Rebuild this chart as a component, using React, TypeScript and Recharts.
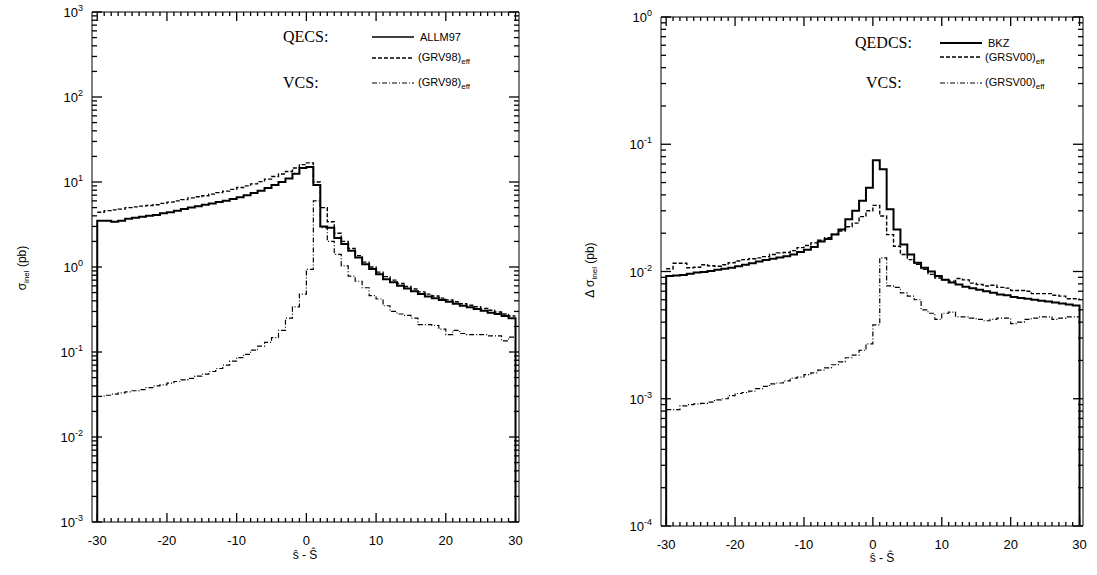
import React from 'react';
import { LineChart, Line, XAxis, YAxis, ReferenceLine } from 'recharts';

// ---------- data (bin values, bins of width 1 from -30 to 30) ----------
const BIN_START = -30;
const BIN_END = 30;
const LEFT_DECADES = [1e-3, 1e-2, 1e-1, 1, 10, 100, 1000];
const RIGHT_DECADES = [1e-4, 1e-3, 1e-2, 1e-1, 1];

// left panel: sigma_inel (pb)
const qecsAllm97 = [
  3.5, 3.5, 3.4, 3.5, 3.7, 3.8, 3.9, 4.0, 4.1, 4.3,
  4.4, 4.6, 4.8, 5.0, 5.2, 5.4, 5.6, 5.8, 6.0, 6.3,
  6.6, 7.0, 7.4, 7.9, 8.5, 9.2, 10.0, 11.0, 12.5, 14.6,
  15.0, 9.2, 3.0, 2.9, 2.2, 1.87, 1.55, 1.29, 1.08, 0.95,
  0.82, 0.72, 0.66, 0.60, 0.56, 0.52, 0.48, 0.45, 0.43, 0.41,
  0.39, 0.37, 0.35, 0.335, 0.32, 0.305, 0.29, 0.28, 0.265, 0.25,
];
const qecsGrv98 = [
  4.4, 4.6, 4.7, 4.8, 5.0, 5.1, 5.2, 5.3, 5.4, 5.6,
  5.8, 6.0, 6.2, 6.5, 6.7, 6.9, 7.2, 7.5, 7.8, 8.2,
  8.6, 9.0, 9.5, 10.1, 10.8, 11.6, 12.4, 13.3, 14.6, 16.0,
  16.8, 10.0, 5.0, 3.4, 2.5, 2.0, 1.65, 1.36, 1.14, 1.0,
  0.87, 0.77, 0.70, 0.64, 0.59, 0.55, 0.51, 0.48, 0.455, 0.43,
  0.41, 0.39, 0.37, 0.355, 0.34, 0.325, 0.31, 0.295, 0.28, 0.265,
];
const vcsGrv98 = [
  0.030, 0.031, 0.032, 0.033, 0.034, 0.035, 0.036, 0.038, 0.040, 0.041,
  0.043, 0.045, 0.047, 0.049, 0.052, 0.055, 0.059, 0.064, 0.070, 0.078,
  0.086, 0.094, 0.105, 0.117, 0.13, 0.148, 0.18, 0.25, 0.34, 0.48,
  0.94, 6.0, 2.9, 2.0, 1.41, 1.03, 0.78, 0.68, 0.57, 0.46,
  0.42, 0.35, 0.30, 0.28, 0.27, 0.25, 0.21, 0.21, 0.205, 0.186,
  0.16, 0.18, 0.165, 0.16, 0.16, 0.16, 0.155, 0.155, 0.135, 0.15,
];

// right panel: Delta sigma_inel (pb)
const qedcsBkz = [
  0.0092, 0.0093, 0.0094, 0.0096, 0.0098, 0.0099, 0.0101, 0.0103, 0.0105, 0.0107,
  0.0110, 0.0113, 0.0116, 0.0120, 0.0123, 0.0126, 0.0129, 0.0132, 0.0136, 0.0142,
  0.0148, 0.0156, 0.0172, 0.0180, 0.0195, 0.0214, 0.0257, 0.0300, 0.0360, 0.0456,
  0.075, 0.0635, 0.0308, 0.0214, 0.0163, 0.0136, 0.0117, 0.0107, 0.0100, 0.0092,
  0.0086, 0.0082, 0.0079, 0.0076, 0.0074, 0.0072, 0.0070, 0.0068, 0.0066, 0.0065,
  0.0063, 0.0062, 0.0061, 0.0060, 0.0059, 0.0058, 0.0057, 0.0056, 0.0055, 0.0054,
];
const qedcsGrsv00 = [
  0.0105, 0.0116, 0.0116, 0.0107, 0.0108, 0.0113, 0.0111, 0.0110, 0.0113, 0.0117,
  0.0121, 0.0124, 0.0126, 0.0128, 0.0131, 0.0136, 0.0140, 0.0141, 0.0146, 0.0154,
  0.0160, 0.0168, 0.0176, 0.0184, 0.0196, 0.0208, 0.0225, 0.0240, 0.0270, 0.0300,
  0.0331, 0.0273, 0.0195, 0.0158, 0.0136, 0.0124, 0.0114, 0.0104, 0.0095, 0.0089,
  0.0086, 0.0084, 0.0088, 0.0086, 0.0081, 0.0079, 0.0077, 0.0078, 0.0075, 0.0074,
  0.0071, 0.0071, 0.0070, 0.0067, 0.0067, 0.0067, 0.0065, 0.0064, 0.0061, 0.0061,
];
const vcsGrsv00 = [
  0.00082, 0.00082, 0.00088, 0.00090, 0.00091, 0.00092, 0.00094, 0.00098, 0.00100, 0.00106,
  0.00110, 0.00112, 0.00115, 0.00120, 0.00125, 0.00131, 0.00133, 0.00138, 0.00145, 0.00148,
  0.00155, 0.00160, 0.00168, 0.00175, 0.00185, 0.00195, 0.00210, 0.00220, 0.00240, 0.00270,
  0.0038, 0.0128, 0.0077, 0.0075, 0.0068, 0.0064, 0.0060, 0.0050, 0.0047, 0.0042,
  0.0047, 0.0048, 0.0044, 0.0044, 0.0043, 0.0042, 0.0041, 0.0042, 0.0043, 0.0043,
  0.0039, 0.0040, 0.0042, 0.0043, 0.0044, 0.0044, 0.0042, 0.0043, 0.0044, 0.0044,
];

// ---------- helpers ----------
type Pt = { x: number; y: number };
function histogram(values: number[], floor: number | null): Pt[] {
  const pts: Pt[] = [];
  if (floor !== null) pts.push({ x: BIN_START, y: floor });
  values.forEach((v, i) => pts.push({ x: BIN_START + i, y: v }));
  pts.push({ x: BIN_END, y: values[values.length - 1] });
  if (floor !== null) pts.push({ x: BIN_END, y: floor });
  return pts;
}
function logTicks(decades: number[]): number[] {
  const out: number[] = [];
  for (let i = 0; i < decades.length; i++) {
    out.push(decades[i]);
    if (i < decades.length - 1) for (let m = 2; m <= 9; m++) out.push(decades[i] * m);
  }
  return out;
}
const isMajorLog = (v: number) => {
  const l = Math.log10(v);
  return Math.abs(l - Math.round(l)) < 1e-6;
};
const X_MINOR: number[] = [];
for (let v = BIN_START; v <= BIN_END; v++) X_MINOR.push(v);

const FONT = '"Liberation Sans", Arial, Helvetica, sans-serif';
const SERIF = '"Liberation Serif", "Times New Roman", serif';

const LeftYLabel = (p: any) => {
  const v = p.payload.value as number;
  if (!isMajorLog(v)) return <g />;
  const e = Math.round(Math.log10(v));
  return (
    <text x={Number(p.x) - 9} y={Number(p.y) + 5} textAnchor="end" fontFamily={FONT} fontSize={13} fill="#000">
      10<tspan dy={-6} fontSize={9}>{String(e)}</tspan>
    </text>
  );
};
const BottomXLabel = (p: any) => {
  const v = p.payload.value as number;
  if (v % 10 !== 0) return <g />;
  return (
    <text x={Number(p.x)} y={Number(p.y) + 23} textAnchor="middle" fontFamily={FONT} fontSize={13} fill="#000">
      {String(v)}
    </text>
  );
};
const Blank = () => <g />;

const X_DOMAIN: [number, number] = [-30.75, 30.5];
const TOP_H = 10;
const BOTTOM_H = 30;
const LEFT_W = 60;
const RIGHT_W = 10;

function renderPanel(
  width: number,
  margin: { top: number; right: number; bottom: number; left: number },
  decades: number[],
  solid: number[],
  dashed: number[],
  dashdot: number[],
) {
  const yDomain: [number, number] = [decades[0], decades[decades.length - 1]];
  const yTicks = logTicks(decades);
  const plotH = 575 - margin.top - TOP_H - margin.bottom - BOTTOM_H;
  const plotW = width - margin.left - LEFT_W - margin.right - RIGHT_W;
  const pxPerDecade = plotH / (decades.length - 1);
  const pxPerUnit = plotW / (X_DOMAIN[1] - X_DOMAIN[0]);
  const yFactor = (px: number) => Math.pow(10, px / pxPerDecade);
  const xLen = (px: number) => px / pxPerUnit;

  const tickStyle = { stroke: '#000', strokeWidth: 1.3, ifOverflow: 'visible' as const };
  const tickLines: React.ReactNode[] = [];
  yTicks.forEach((t, i) => {
    const len = isMajorLog(t) ? 10 : 5;
    tickLines.push(
      <ReferenceLine key={`yl${i}`} xAxisId="b" yAxisId="l" {...tickStyle}
        segment={[{ x: X_DOMAIN[0], y: t }, { x: X_DOMAIN[0] + xLen(len), y: t }]} />,
      <ReferenceLine key={`yr${i}`} xAxisId="b" yAxisId="l" {...tickStyle}
        segment={[{ x: X_DOMAIN[1], y: t }, { x: X_DOMAIN[1] - xLen(len), y: t }]} />,
    );
  });
  X_MINOR.forEach((t, i) => {
    const len = t % 10 === 0 ? 9 : 4;
    tickLines.push(
      <ReferenceLine key={`xb${i}`} xAxisId="b" yAxisId="l" {...tickStyle}
        segment={[{ x: t, y: yDomain[0] }, { x: t, y: yDomain[0] * yFactor(len) }]} />,
      <ReferenceLine key={`xt${i}`} xAxisId="b" yAxisId="l" {...tickStyle}
        segment={[{ x: t, y: yDomain[1] }, { x: t, y: yDomain[1] / yFactor(len) }]} />,
    );
  });

  return (
    <LineChart width={width} height={575} margin={margin}>
      <XAxis xAxisId="b" type="number" dataKey="x" domain={X_DOMAIN} allowDataOverflow ticks={X_MINOR} interval={0}
        tickSize={0} tickMargin={0} tickLine={false} stroke="#000" tick={BottomXLabel} height={BOTTOM_H} orientation="bottom" />
      <XAxis xAxisId="t" type="number" dataKey="x" domain={X_DOMAIN} allowDataOverflow ticks={X_MINOR} interval={0}
        tickSize={0} tickMargin={0} tickLine={false} stroke="#000" tick={Blank} height={TOP_H} orientation="top" />
      <YAxis yAxisId="l" scale="log" type="number" domain={yDomain} allowDataOverflow ticks={yTicks} interval={0}
        tickSize={0} tickMargin={0} tickLine={false} stroke="#000" tick={LeftYLabel} width={LEFT_W} orientation="left" />
      <YAxis yAxisId="r" scale="log" type="number" domain={yDomain} allowDataOverflow ticks={yTicks} interval={0}
        tickSize={0} tickMargin={0} tickLine={false} stroke="#000" tick={Blank} width={RIGHT_W} orientation="right" />
      {tickLines}
      <Line xAxisId="b" yAxisId="l" data={histogram(dashdot, null)} dataKey="y" type="stepAfter" stroke="#000"
        strokeWidth={1.2} strokeDasharray="5 2 1 2" dot={false} isAnimationActive={false} />
      <Line xAxisId="b" yAxisId="l" data={histogram(dashed, null)} dataKey="y" type="stepAfter" stroke="#000"
        strokeWidth={1.4} strokeDasharray="4 2" dot={false} isAnimationActive={false} />
      <Line xAxisId="b" yAxisId="l" data={histogram(solid, yDomain[0])} dataKey="y" type="stepAfter" stroke="#000"
        strokeWidth={2} dot={false} isAnimationActive={false} />
    </LineChart>
  );
}

const sub = (s: string) => (
  <tspan dy={3} fontSize={8}>
    {s}
  </tspan>
);

export default function App() {
  return (
    <div style={{ position: 'absolute', left: 0, top: 0, width: 1097, height: 575, background: '#fff' }}>
      <div style={{ position: 'absolute', left: 0, top: 0 }}>
        {renderPanel(540, { top: 2, right: 11, bottom: 23, left: 32 }, LEFT_DECADES, qecsAllm97, qecsGrv98, vcsGrv98)}
      </div>
      <div style={{ position: 'absolute', left: 560, top: 0 }}>
        {renderPanel(537, { top: 7, right: 4, bottom: 19, left: 41 }, RIGHT_DECADES, qedcsBkz, qedcsGrsv00, vcsGrsv00)}
      </div>
      <svg width={1097} height={575} style={{ position: 'absolute', left: 0, top: 0, pointerEvents: 'none' }}>
        <text x={283} y={42} fontFamily={SERIF} fontSize={16} fill="#000">QECS:</text>
        <line x1={372} x2={414} y1={37} y2={37} stroke="#000" strokeWidth={1.5} />
        <text x={420} y={41} fontFamily={FONT} fontSize={11} fill="#000">ALLM97</text>
        <line x1={372} x2={414} y1={58} y2={58} stroke="#000" strokeWidth={1.3} strokeDasharray="4 2" />
        <text x={418} y={61} fontFamily={FONT} fontSize={11} fill="#000">(GRV98){sub('eff')}</text>
        <text x={283} y={88} fontFamily={SERIF} fontSize={16} fill="#000">VCS:</text>
        <line x1={372} x2={414} y1={83} y2={83} stroke="#000" strokeWidth={1.2} strokeDasharray="5 2 1 2" />
        <text x={418} y={86} fontFamily={FONT} fontSize={11} fill="#000">(GRV98){sub('eff')}</text>

        <text x={855} y={48} fontFamily={SERIF} fontSize={16} fill="#000">QEDCS:</text>
        <line x1={940} x2={982} y1={43} y2={43} stroke="#000" strokeWidth={1.8} />
        <text x={988} y={47} fontFamily={FONT} fontSize={11} fill="#000">BKZ</text>
        <line x1={940} x2={982} y1={57} y2={57} stroke="#000" strokeWidth={1.3} strokeDasharray="4 2" />
        <text x={985} y={61} fontFamily={FONT} fontSize={11} fill="#000">(GRSV00){sub('eff')}</text>
        <text x={866} y={88} fontFamily={SERIF} fontSize={16} fill="#000">VCS:</text>
        <line x1={940} x2={982} y1={83} y2={83} stroke="#000" strokeWidth={1.2} strokeDasharray="5 2 1 2" />
        <text x={985} y={86} fontFamily={FONT} fontSize={11} fill="#000">(GRSV00){sub('eff')}</text>

        <text x={26} y={268} transform="rotate(-90 26 268)" textAnchor="middle" fontFamily={FONT} fontSize={12} fill="#000">
          σ<tspan dy={3} fontSize={8}>inel</tspan>
          <tspan dy={-3}>{'  (pb)'}</tspan>
        </text>
        <text x={594} y={270} transform="rotate(-90 594 270)" textAnchor="middle" fontFamily={FONT} fontSize={12} fill="#000">
          Δ σ<tspan dy={3} fontSize={8}>inel</tspan>
          <tspan dy={-3}>{'  (pb)'}</tspan>
        </text>
        <text x={305} y={559} textAnchor="middle" fontFamily={FONT} fontSize={12} fill="#000">ŝ - Ŝ</text>
        <text x={882} y={562} textAnchor="middle" fontFamily={FONT} fontSize={12} fill="#000">ŝ - Ŝ</text>
      </svg>
    </div>
  );
}
